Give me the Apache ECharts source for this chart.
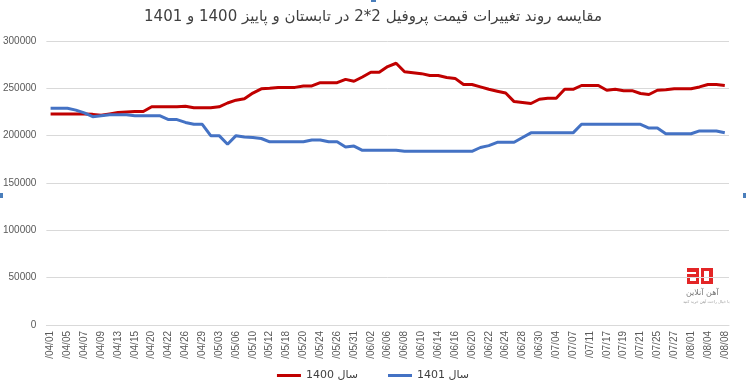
<!DOCTYPE html>
<html>
<head>
<meta charset="utf-8">
<script src="https://cdn.jsdelivr.net/npm/echarts@6/dist/echarts.min.js"></script>
<style>
html,body{margin:0;padding:0;background:#fff;}
#chart{width:746px;height:390px;}
</style>
</head>
<body>
<div id="chart"></div>
<script>
var titleText = 'مقایسه روند تغییرات قیمت پروفیل 2*2 در تابستان و پاییز 1400 و 1401';
var seriesNames = ['سال 1400', 'سال 1401'];
var categories = [
'/04/01','/04/03','/04/05','/04/06','/04/07','/04/08','/04/09','/04/12','/04/13','/04/14',
'/04/15','/04/19','/04/20','/04/21','/04/22','/04/23','/04/26','/04/27','/04/29','/05/02',
'/05/03','/05/04','/05/06','/05/09','/05/10','/05/11','/05/12','/05/17','/05/18','/05/19',
'/05/20','/05/23','/05/24','/05/25','/05/26','/05/30','/05/31','/06/01','/06/02','/06/03',
'/06/06','/06/07','/06/08','/06/09','/06/10','/06/13','/06/14','/06/15','/06/16','/06/17',
'/06/20','/06/21','/06/22','/06/23','/06/24','/06/27','/06/28','/06/29','/06/30','/07/03',
'/07/04','/07/05','/07/07','/07/10','/07/11','/07/12','/07/17','/07/18','/07/19','/07/20',
'/07/21','/07/24','/07/25','/07/26','/07/27','/07/30','/08/01','/08/03','/08/04','/08/07',
'/08/08'
];
var values1400 = [
223000,223000,223000,223000,223000,
222500,221500,223000,224500,225000,
225500,225500,230500,230500,230500,
230500,231000,229500,229500,229500,
230500,234500,237500,239000,245000,
249500,250000,251000,251000,251000,
252500,252500,256000,256000,256000,
259500,257500,262000,267000,267000,
273000,276500,267500,266500,265500,
263500,263500,261500,260500,254000,
254000,251500,249000,247000,245000,
236000,235000,234000,238500,239500,
239500,249000,249000,253000,253000,
253000,248000,249000,247500,247500,
244500,243500,248000,248500,249500,
249500,249500,251500,254000,254000,
253000
];
var values1401 = [
229000,229000,229000,227000,224000,
220000,221000,222000,222000,222000,
221000,221000,221000,221000,217000,
217000,214000,212000,212000,200000,
200000,191000,200000,198500,198000,
197000,193500,193500,193500,193500,
193500,195500,195500,193500,193500,
188000,189000,184500,184500,184500,
184500,184500,183500,183500,183500,
183500,183500,183500,183500,183500,
183500,187500,189500,193000,193000,
193000,198000,203000,203000,203000,
203000,203000,203000,212000,212000,
212000,212000,212000,212000,212000,
212000,208000,208000,202000,202000,
202000,202000,205000,205000,205000,
203000
];

var chart = echarts.init(document.getElementById('chart'), null, {renderer:'canvas'});
var fontFam = '"Liberation Sans", "DejaVu Sans", Arial, sans-serif';
chart.setOption({
  animation: false,
  backgroundColor: '#ffffff',
  title: {
    text: titleText,
    left: 'center',
    top: 5,
    textStyle: {fontFamily: '"DejaVu Sans", sans-serif', fontSize: 15, fontWeight: 'normal', color: '#404040'}
  },
  legend: {
    bottom: 4,
    left: 'center',
    itemWidth: 24,
    itemHeight: 3,
    itemGap: 30,
    icon: 'rect',
    textStyle: {fontFamily: '"DejaVu Sans", sans-serif', fontSize: 11, color: '#404040'},
    data: seriesNames
  },
  grid: {left: 46, right: 17, top: 41, bottom: 65, containLabel: false},
  xAxis: {
    type: 'category',
    boundaryGap: true,
    data: categories,
    axisLine: {show: true, lineStyle: {color: '#D9D9D9', width: 1}},
    axisTick: {show: false},
    axisLabel: {interval: 1, rotate: 90, margin: 6, fontFamily: fontFam, fontSize: 10, color: '#595959'}
  },
  yAxis: {
    type: 'value',
    min: 0,
    max: 300000,
    interval: 50000,
    axisLine: {show: false},
    axisTick: {show: false},
    splitLine: {lineStyle: {color: '#D9D9D9', width: 1}},
    axisLabel: {margin: 10, fontFamily: fontFam, fontSize: 10, color: '#595959', formatter: function (v) { return String(v); }}
  },
  series: [
    {name: seriesNames[0], type: 'line', data: values1400, symbol: 'none', lineStyle: {color: '#C00000', width: 3}, itemStyle: {color: '#C00000'}},
    {name: seriesNames[1], type: 'line', data: values1401, symbol: 'none', lineStyle: {color: '#4472C4', width: 3}, itemStyle: {color: '#4472C4'}}
  ],
  graphic: [
    {type: 'rect', left: 687, top: 268, shape: {width: 12, height: 4}, style: {fill: '#E32526'}},
    {type: 'rect', left: 687, top: 274, shape: {width: 12, height: 3}, style: {fill: '#E32526'}},
    {type: 'rect', left: 687, top: 274, shape: {width: 3, height: 10}, style: {fill: '#E32526'}},
    {type: 'rect', left: 687, top: 281, shape: {width: 12, height: 3}, style: {fill: '#E32526'}},
    {type: 'rect', left: 696, top: 268, shape: {width: 3, height: 16}, style: {fill: '#E32526'}},
    {type: 'rect', left: 701, top: 268, shape: {width: 9, height: 3}, style: {fill: '#E32526'}},
    {type: 'rect', left: 701, top: 281, shape: {width: 9, height: 3}, style: {fill: '#E32526'}},
    {type: 'rect', left: 709, top: 268, shape: {width: 4, height: 16}, style: {fill: '#E32526'}},
    {type: 'rect', left: 701, top: 268, shape: {width: 3, height: 16}, style: {fill: '#E32526'}},
    {type: 'text', left: 686, top: 289, style: {text: 'آهن آنلاین', fontSize: 8, fill: '#777777', fontFamily: '"DejaVu Sans", sans-serif'}},
    {type: 'text', left: 683, top: 300, style: {text: 'با خیال راحت آهن خرید کنید', fontSize: 4, fill: '#999999', fontFamily: '"DejaVu Sans", sans-serif'}},
    {type: 'rect', left: 0, top: 193, shape: {width: 3, height: 5}, style: {fill: '#4A7EBB'}},
    {type: 'rect', left: 743, top: 193, shape: {width: 3, height: 5}, style: {fill: '#4A7EBB'}},
    {type: 'rect', left: 371, top: 0, shape: {width: 5, height: 2}, style: {fill: '#4A7EBB'}}
  ]
});
</script>
</body>
</html>
